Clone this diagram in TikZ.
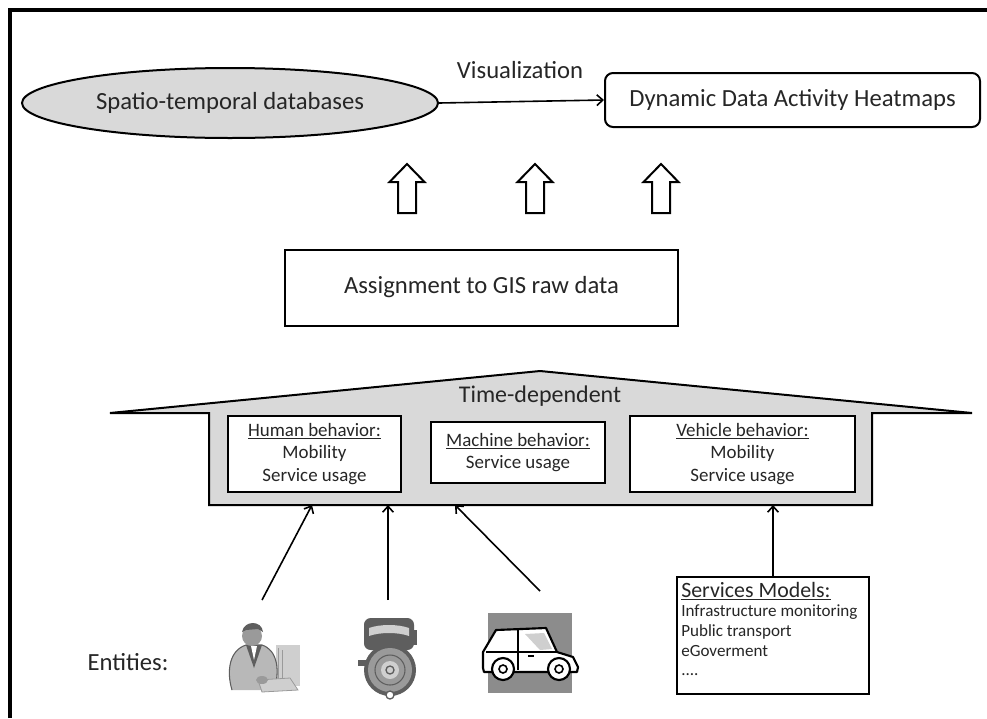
\documentclass[tikz,border=0pt]{standalone}
\usepackage{fontspec}
\setmainfont{Carlito}
\usetikzlibrary{shapes.geometric,arrows.meta,calc}
\definecolor{panelgray}{HTML}{D9D9D9}
\definecolor{inkgray}{HTML}{262626}
\definecolor{iconbg}{HTML}{8C8C8C}
\definecolor{icondark}{HTML}{5E5E5E}
\definecolor{iconmid}{HTML}{9A9A9A}
\definecolor{iconlight}{HTML}{CFCFCF}

\begin{document}
\begin{tikzpicture}[x=0.75pt,y=-0.75pt,
  every node/.style={text=inkgray},
  box/.style={draw=black,line width=1.5pt,fill=white,inner sep=0pt,align=center},
  bigtext/.style={font=\fontsize{18.5}{22}\selectfont},
  midtext/.style={font=\fontsize{14.2}{17}\selectfont},
  listtext/.style={font=\fontsize{12.8}{15}\selectfont,anchor=base west,inner sep=0pt},
  conn/.style={line width=1.2pt,-{Straight Barb[length=4.5pt,width=8pt,line width=1.2pt]}},
  hollowup/.style={draw=black,line width=1.5pt,fill=white,line join=miter}]

\useasboundingbox (0,0) rectangle (987,718);
\fill[white] (0,0) rectangle (987,718);

% frame on the top and left sides
\draw[line width=2.4pt] (10,718) -- (10,10) -- (987,10);

% top row: database, visualization, heatmaps
\node[ellipse,draw=black,line width=1.5pt,fill=panelgray,minimum width=312pt,minimum height=52.5pt,inner sep=0pt,bigtext] (db) at (230,103) {Spatio-temporal databases};
\node[box,rounded corners=6pt,minimum width=281.25pt,minimum height=40.5pt,bigtext] (heat) at (792.5,100) {Dynamic Data Activity Heatmaps};
\draw[conn] (db.east) -- (heat.west);
\node[bigtext] (viz) at (520,70) {Visualization};

% three hollow arrows pointing up
\foreach \cx/\nm in {407/ua,535/ub,661/uc}{
  \coordinate (\nm) at (\cx,164);
  \draw[hollowup] (\nm) -- ++(17.5,18) -- ++(-8.5,0) -- ++(0,31) -- ++(-18,0) -- ++(0,-31) -- ++(-8.5,0) -- cycle;
}

% assignment box
\node[box,minimum width=294.75pt,minimum height=57pt,bigtext] (assign) at (481.5,287.5) {Assignment to GIS raw data};

% house shaped panel
\coordinate (roofL) at (110,413);
\coordinate (apex) at (540,371);
\coordinate (roofR) at (972,413);
\draw[line width=1.5pt,fill=panelgray,line join=miter]
  (roofL) -- (apex) -- (roofR) -- (872,413) -- (872,505) -- (209,505) -- (209,413) -- cycle;
\node[font=\fontsize{18}{21}\selectfont] (timedep) at (540,396) {Time-dependent};

% behaviour boxes
\node[box,minimum width=129.75pt,minimum height=57pt,midtext] (human) at (314.5,454) {\underline{Human behavior:}\\Mobility\\Service usage};
\node[box,minimum width=130.5pt,minimum height=45.75pt,midtext] (machine) at (518,452.5) {\underline{Machine behavior:}\\Service usage};
\node[box,minimum width=168.75pt,minimum height=57pt,midtext] (vehicle) at (742.5,454) {\underline{Vehicle behavior:}\\Mobility\\Service usage};

% services models box with its list
\node[box,minimum width=144pt,minimum height=87.75pt,anchor=north west] (svc) at (676,576) {};
\node[font=\fontsize{16.4}{19}\selectfont,anchor=base west,inner sep=0pt] (svctitle) at (681,597) {\underline{Services Models:}};
\node[listtext] (svcA) at (681,616.5) {Infrastructure monitoring};
\node[listtext] (svcB) at (681,636.5) {Public transport};
\node[listtext] (svcC) at (681,656.5) {eGoverment};
\node[listtext] (svcD) at (681,675) {....};

% entities label
\node[bigtext] (entities) at (128,662) {Entities:};

% person at a computer
\begin{scope}
  \fill[iconlight] (276,645) rectangle (300,686);
  \draw[iconmid,line width=0.6pt] (278,648) -- (278,684) (282,650) -- (282,682);
  \fill[iconmid!70] (232,690) .. controls (226,670) and (230,650) .. (246,645) -- (262,645) .. controls (278,650) and (280,672) .. (274,690) -- cycle;
  \draw[icondark,line width=0.8pt] (232,690) .. controls (226,670) and (230,650) .. (246,645) -- (262,645) .. controls (278,650) and (280,672) .. (274,690);
  \fill[icondark] (246,645) -- (254,668) -- (262,645) -- cycle;
  \fill[white] (251,646) -- (254,660) -- (257,646) -- cycle;
  \fill[iconmid] (252,636) circle (10);
  \fill[icondark] (242,632) .. controls (244,620) and (262,620) .. (263,632) -- (258,629) -- (246,630) -- cycle;
  \fill[iconlight] (258,680) -- (290,678) -- (298,690) -- (262,692) -- cycle;
  \draw[iconmid,line width=0.6pt] (258,680) -- (290,678) -- (298,690) -- (262,692) -- cycle;
  \fill[iconmid] (262,680) ellipse (6 and 4);
\end{scope}
\coordinate (personTop) at (262,600);

% machine
\begin{scope}
  \fill[icondark] (358,660) rectangle (366,666);
  \fill[icondark] (412,630) rectangle (417,645);
  \fill[icondark,rounded corners=5pt] (364,618) rectangle (414,650);
  \fill[iconlight] (369,628) .. controls (380,624) and (398,624) .. (409,628) -- (409,636) .. controls (398,632) and (380,632) .. (369,636) -- cycle;
  \fill[icondark] (390,670) circle (26);
  \fill[iconmid] (390,670) circle (22);
  \draw[icondark,line width=0.8pt] (390,670) circle (15);
  \fill[iconlight] (390,670) circle (9);
  \draw[icondark,line width=1pt] (390,670) circle (4);
  \draw[icondark,line width=1pt,fill=white] (390,695) circle (4);
\end{scope}
\coordinate (machineTop) at (388,600);

% car
\begin{scope}
  \fill[iconbg] (488,613) rectangle (572,693);
  \draw[line width=1.6pt,fill=white,line join=round]
    (483,668) -- (483,652) -- (496,630) -- (546,628) -- (557,652) -- (573,657) -- (578,667) -- (577,672) -- (484,672) -- cycle;
  \fill[iconlight] (525,634) -- (544,633) -- (552,649) -- (540,650) -- cycle;
  \draw[line width=1.2pt] (486,652) -- (557,652);
  \draw[line width=1.2pt] (518,629) -- (518,670);
  \draw[line width=1pt] (528,656) -- (534,656);
  \draw[line width=1.6pt,fill=white] (503,669) circle (11);
  \draw[line width=1.2pt] (503,669) circle (4);
  \draw[line width=1.6pt,fill=white] (559,669) circle (11);
  \draw[line width=1.2pt] (559,669) circle (4);
\end{scope}
\coordinate (carTop) at (540,591);

% connectors into the behaviour panel
\coordinate (inHuman) at (312,505);
\coordinate (inMachine) at (388,505);
\coordinate (inCar) at (455,505);
\coordinate (inSvc) at (773,505);
\draw[conn] (personTop) -- (inHuman);
\draw[conn] (machineTop) -- (inMachine);
\draw[conn] (carTop) -- (inCar);
\draw[conn] (svc.north -| inSvc) -- (inSvc);

\end{tikzpicture}
\end{document}
